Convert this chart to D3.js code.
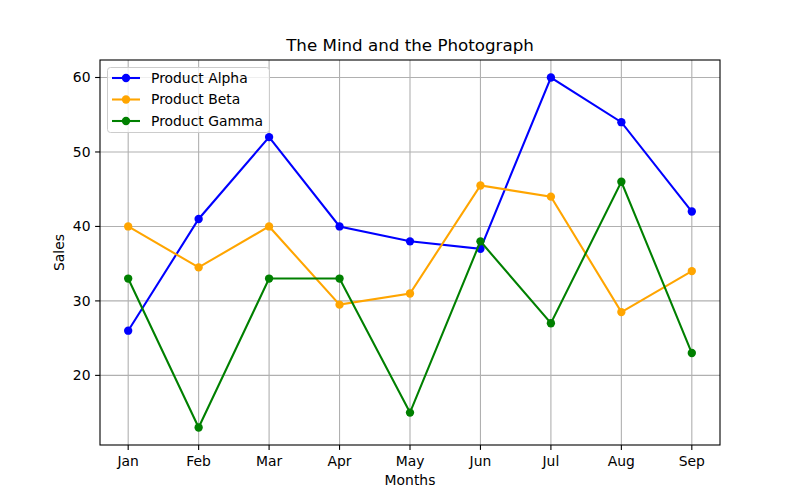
<!DOCTYPE html>
<html><head><meta charset="utf-8">
<script src="https://cdn.jsdelivr.net/npm/d3@7"></script>
<style>body{margin:0;background:#fff}svg{display:block;font-family:"DejaVu Sans",sans-serif}</style>
</head><body><svg id="c" width="800" height="500"></svg>
<script>
const months = ["Jan","Feb","Mar","Apr","May","Jun","Jul","Aug","Sep"];
const alpha = [26,41,52,40,38,37,60,54,42];
const beta = [40,34.5,40,29.5,31,45.5,44,28.5,34];
const gamma = [33,13,33,33,15,38,27,46,23];
const yTicks = [20,30,40,50,60];
const seriesNames = ["Product Alpha","Product Beta","Product Gamma"];
const seriesColors = ["#0000ff","#ffa500","#008000"];
const seriesData = [alpha,beta,gamma];

const svg = d3.select("#c");
const L=100,R=720,T=60,B=445;
const all = seriesData.flat();
const mn = d3.min(all), mx = d3.max(all), pad=(mx-mn)*0.05;
const x = d3.scaleLinear().domain([-0.4, months.length-1+0.4]).range([L,R]);
const y = d3.scaleLinear().domain([mn-pad, mx+pad]).range([B,T]);

// grid
const g = svg.append("g");
g.selectAll(".gx").data(months).enter().append("line")
 .attr("x1",(d,i)=>x(i)).attr("x2",(d,i)=>x(i)).attr("y1",T).attr("y2",B)
 .attr("stroke","#b0b0b0").attr("stroke-width",1.1);
g.selectAll(".gy").data(yTicks).enter().append("line")
 .attr("x1",L).attr("x2",R).attr("y1",d=>y(d)).attr("y2",d=>y(d))
 .attr("stroke","#b0b0b0").attr("stroke-width",1.1);

// lines
const line = d3.line().x((d,i)=>x(i)).y(d=>y(d));
seriesData.forEach((s,k)=>{
  svg.append("path").datum(s).attr("d",line).attr("fill","none")
    .attr("stroke",seriesColors[k]).attr("stroke-width",2.08);
  svg.selectAll(".m"+k).data(s).enter().append("circle")
    .attr("cx",(d,i)=>x(i)).attr("cy",d=>y(d)).attr("r",4.17)
    .attr("fill",seriesColors[k]);
});

// axes frame
svg.append("rect").attr("x",L).attr("y",T).attr("width",R-L).attr("height",B-T)
 .attr("fill","none").attr("stroke","#000").attr("stroke-width",1.1);

// x ticks
const xa = svg.append("g");
months.forEach((m,i)=>{
  xa.append("line").attr("x1",x(i)).attr("x2",x(i)).attr("y1",B).attr("y2",B+4.9).attr("stroke","#000").attr("stroke-width",1.1);
  xa.append("text").attr("x",x(i)).attr("y",B+20.5).attr("text-anchor","middle").attr("font-size",13.9).attr("fill","#000").text(m);
});
yTicks.forEach(t=>{
  xa.append("line").attr("x1",L-4.9).attr("x2",L).attr("y1",y(t)).attr("y2",y(t)).attr("stroke","#000").attr("stroke-width",1.1);
  xa.append("text").attr("x",L-9.5).attr("y",y(t)).attr("dy","0.35em").attr("text-anchor","end").attr("font-size",13.9).attr("fill","#000").text(t);
});

svg.append("text").attr("x",(L+R)/2).attr("y",51).attr("text-anchor","middle").attr("font-size",16.7).text("The Mind and the Photograph");
svg.append("text").attr("x",(L+R)/2).attr("y",485).attr("text-anchor","middle").attr("font-size",13.9).text("Months");
svg.append("text").attr("transform",`translate(64,${(T+B)/2}) rotate(-90)`).attr("text-anchor","middle").attr("font-size",13.9).text("Sales");

// legend
const lg = svg.append("g");
lg.append("rect").attr("x",107.5).attr("y",67.5).attr("width",162).attr("height",65).attr("rx",3)
 .attr("fill","#fff").attr("fill-opacity",0.8).attr("stroke","#cccccc").attr("stroke-width",1);
seriesNames.forEach((n,k)=>{
  const yy = 78 + k*21.5;
  lg.append("line").attr("x1",112).attr("x2",140).attr("y1",yy).attr("y2",yy).attr("stroke",seriesColors[k]).attr("stroke-width",2.08);
  lg.append("circle").attr("cx",126).attr("cy",yy).attr("r",4.17).attr("fill",seriesColors[k]);
  lg.append("text").attr("x",151).attr("y",yy).attr("dy","0.35em").attr("font-size",13.9).text(n);
});
</script></body></html>
